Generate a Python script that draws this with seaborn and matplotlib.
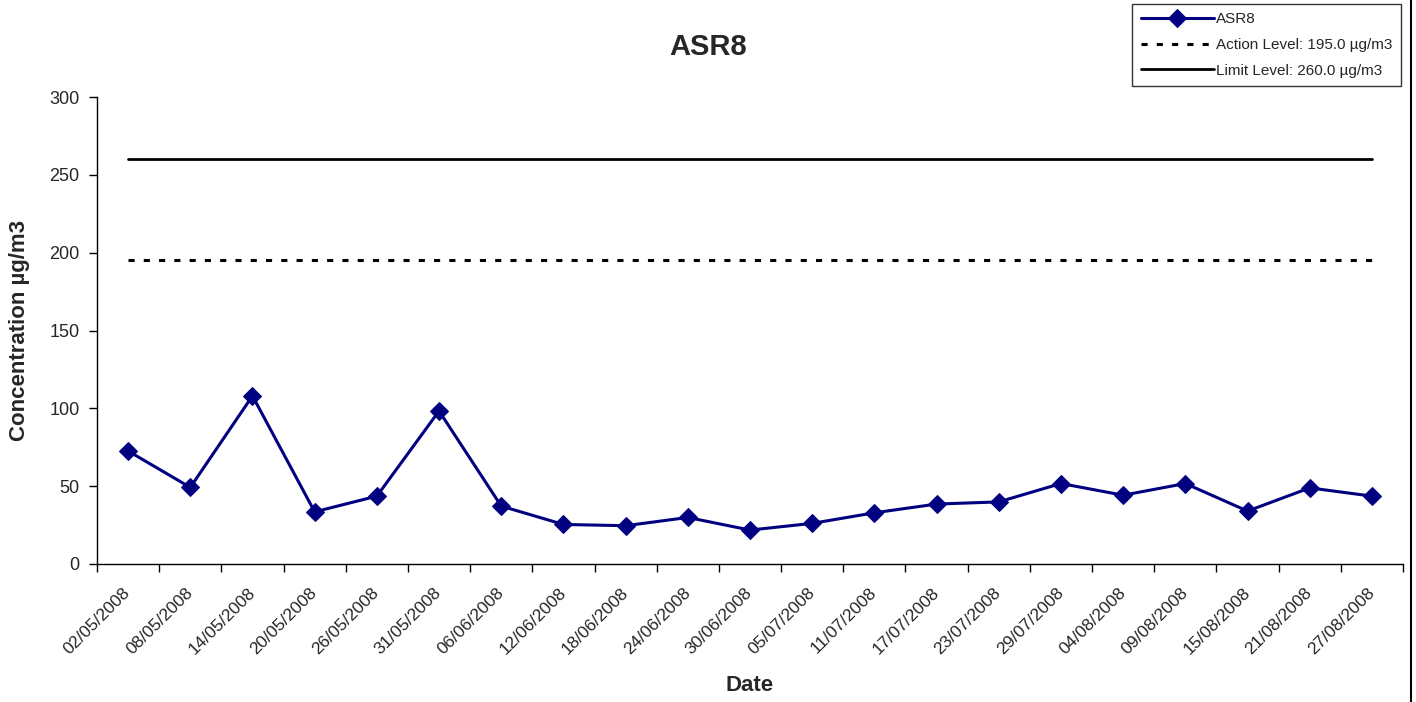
import numpy as np
import pandas as pd
import matplotlib
matplotlib.use("Agg")
import matplotlib.pyplot as plt
import seaborn as sns
from matplotlib.lines import Line2D
from matplotlib.transforms import ScaledTranslation

sns.set_style("white")
plt.rcParams['font.family'] = ['Liberation Sans', 'DejaVu Sans']

# donnees
dates = ["02/05/2008", "08/05/2008", "14/05/2008", "20/05/2008", "26/05/2008",
         "31/05/2008", "06/06/2008", "12/06/2008", "18/06/2008", "24/06/2008",
         "30/06/2008", "05/07/2008", "11/07/2008", "17/07/2008", "23/07/2008",
         "29/07/2008", "04/08/2008", "09/08/2008", "15/08/2008", "21/08/2008",
         "27/08/2008"]
asr8 = [72.6, 49.2, 108.0, 33.5, 43.6, 98.3, 37.2, 25.4, 24.6, 29.9, 21.8,
        26.1, 32.9, 38.5, 39.9, 51.7, 44.2, 51.7, 34.0, 48.9, 43.6]
action_level = 195.0
limit_level = 260.0

df = pd.DataFrame({"pos": np.arange(len(dates)), "date": dates, "ASR8": asr8})
df["action"] = action_level
df["limit"] = limit_level

fig = plt.figure(figsize=(14.16, 7.02), dpi=100)
ax = fig.add_axes([97/1416, 138/702, 1306/1416, 467/702])

sns.lineplot(data=df, x="pos", y="ASR8", ax=ax, color="#000080", lw=2.2,
             marker="D", markersize=9, markeredgecolor="#000080", label="ASR8")
sns.lineplot(data=df, x="pos", y="action", ax=ax, color="black", lw=2.2,
             linestyle=(0, (2, 3)), label="Action Level: 195.0 \u00b5g/m3")
sns.lineplot(data=df, x="pos", y="limit", ax=ax, color="black", lw=2,
             label="Limit Level: 260.0 \u00b5g/m3")

n = len(dates)
ax.set_xlim(-0.5, n - 0.5)
ax.set_ylim(0, 300)
ax.set_yticks(np.arange(0, 301, 50))
ax.set_xticks(np.arange(-0.5, n, 1.0))
ax.set_xticklabels([])
ax.set_xticks(np.arange(n), minor=True)
ax.set_xticklabels(dates, minor=True, rotation=45, ha="right", va="center",
                   rotation_mode="anchor", fontsize=12.5)
# petit decalage a gauche des etiquettes comme dans Excel
shift = ScaledTranslation(-6/100, 0, fig.dpi_scale_trans)
for lab in ax.get_xticklabels(minor=True):
    lab.set_transform(lab.get_transform() + shift)
ax.tick_params(axis="x", which="major", direction="out", length=6, width=1, color="black")
ax.tick_params(axis="x", which="minor", length=0, pad=19)
ax.tick_params(axis="y", direction="out", length=6, width=1, color="black",
               labelsize=13, pad=6.5)
ax.tick_params(left=True, bottom=True)
for s in ["top", "right"]:
    ax.spines[s].set_visible(False)
for s in ["left", "bottom"]:
    ax.spines[s].set_color("black")
    ax.spines[s].set_linewidth(1)

ax.set_xlabel("Date", fontsize=16, fontweight="bold", labelpad=13)
ax.set_ylabel("Concentration \u00b5g/m3", fontsize=16, fontweight="bold", labelpad=14)
fig.suptitle("ASR8", x=0.5, y=0.953, fontsize=21, fontweight="bold")

leg = ax.legend(loc="upper right", bbox_to_anchor=(1401/1416, 698/702),
                bbox_transform=fig.transFigure, fontsize=11, frameon=True,
                fancybox=False, borderpad=0.55, handlelength=4.8, labelspacing=0.76,
                handletextpad=0.15, borderaxespad=0)
leg.get_frame().set_edgecolor("black")
leg.get_frame().set_linewidth(1)

fig.add_artist(Line2D([1411/1416, 1411/1416], [0, 1], transform=fig.transFigure,
                      color="black", lw=1.5))

plt.savefig("out.png", dpi=100)
plt.close()
